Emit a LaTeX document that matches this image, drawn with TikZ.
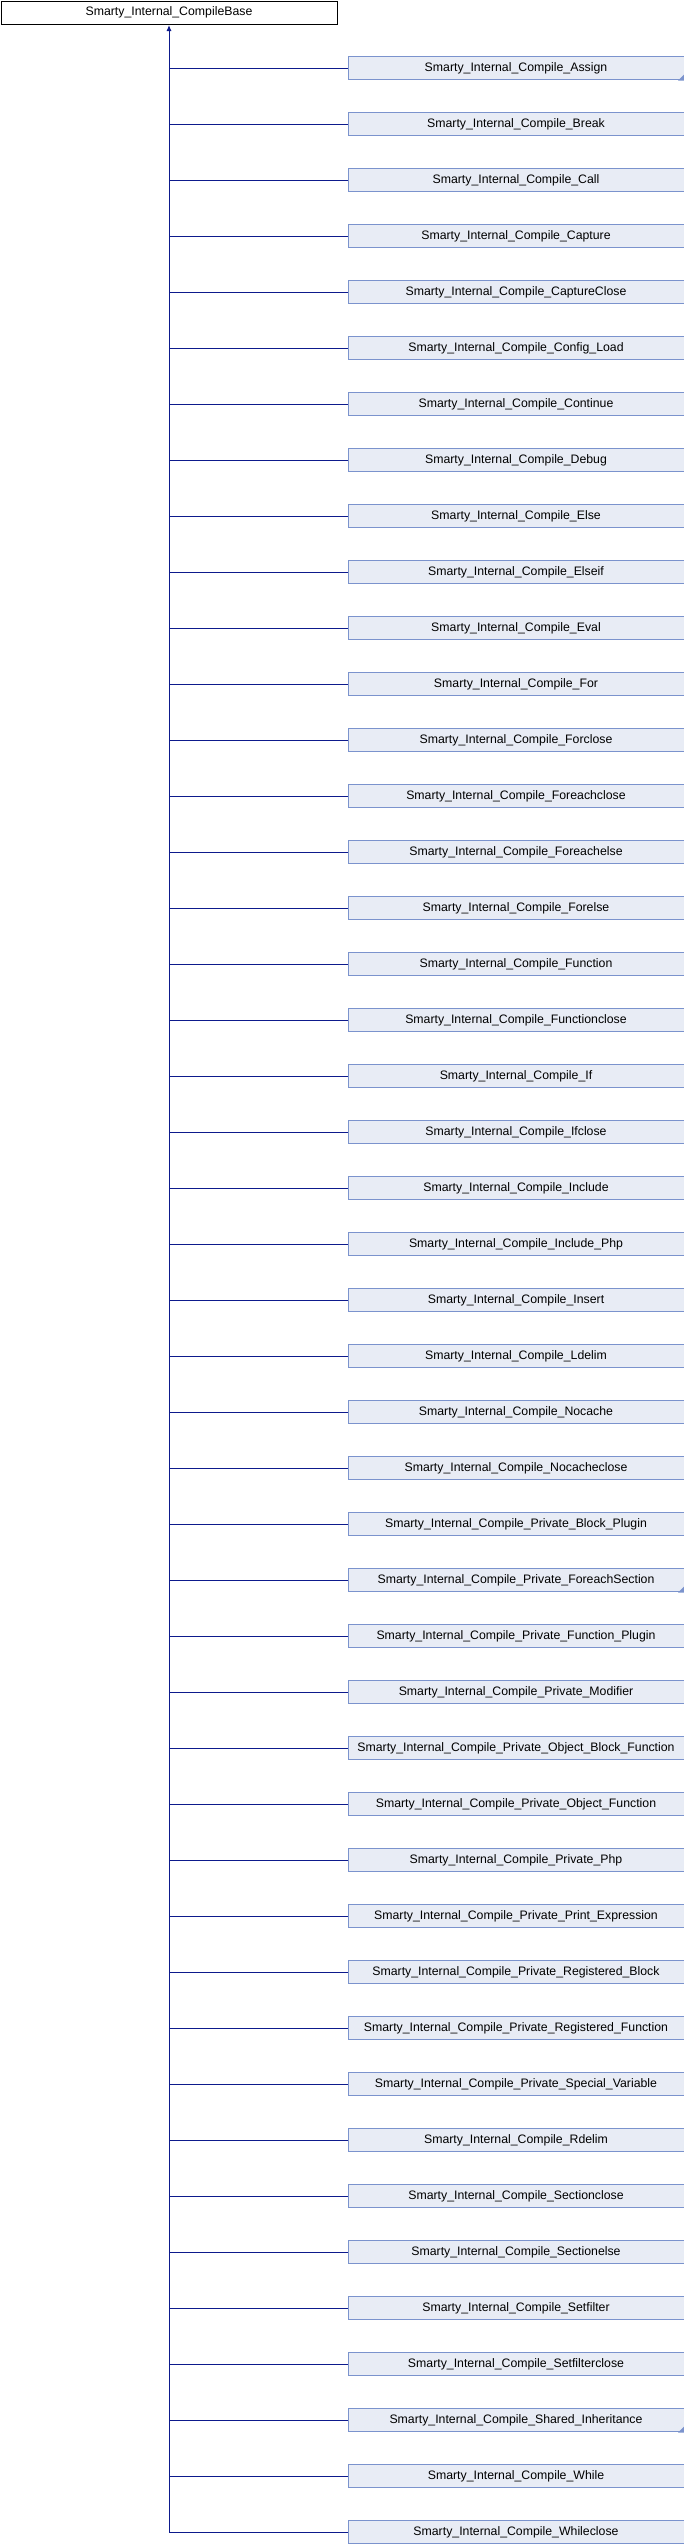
\documentclass[tikz,border=0pt]{standalone}
\usepackage{fontspec}
\setmainfont{Liberation Sans}
\usetikzlibrary{arrows.meta}
\definecolor{boxfill}{HTML}{E8ECF5}
\definecolor{boxedge}{HTML}{7B93CD}
\definecolor{linkcol}{HTML}{0D1A8C}
\begin{document}
\begin{tikzpicture}[x=1pt,y=-1pt,
  lbl/.style={font=\fontsize{12.3}{14}\selectfont, inner sep=0pt, minimum height=23pt},
  basebox/.style={lbl, draw=black, fill=white, line width=1pt, minimum width=336pt, anchor=north west},
  childbox/.style={lbl, draw=boxedge, fill=boxfill, line width=1pt, minimum width=336pt, anchor=west},
  link/.style={draw=linkcol, line width=1pt}]
\useasboundingbox (0,0) rectangle (684,2544);
\node[basebox] (base) at (0.5,0.5) {Smarty\_Internal\_CompileBase};
\foreach \n [count=\i from 0] in {Assign,Break,Call,Capture,CaptureClose,Config\_Load,Continue,Debug,Else,Elseif,Eval,For,Forclose,Foreachclose,Foreachelse,Forelse,Function,Functionclose,If,Ifclose,Include,Include\_Php,Insert,Ldelim,Nocache,Nocacheclose,Private\_Block\_Plugin,Private\_ForeachSection,Private\_Function\_Plugin,Private\_Modifier,Private\_Object\_Block\_Function,Private\_Object\_Function,Private\_Php,Private\_Print\_Expression,Private\_Registered\_Block,Private\_Registered\_Function,Private\_Special\_Variable,Rdelim,Sectionclose,Sectionelse,Setfilter,Setfilterclose,Shared\_Inheritance,While,Whileclose}{
  \node[childbox] (c\i) at (347.5,68+56*\i) {Smarty\_Internal\_Compile\_\n};
  \draw[link] (c\i.west) -- (c\i.west -| base.south);
}
\coordinate (trunkend) at (base.south |- c44.west);
\draw[link, {Latex[length=6pt,width=5pt]}-] ([yshift=-0.5pt]base.south) -- (trunkend);
\foreach \k in {0,27,42}{
  \fill[boxedge] ([xshift=0.5pt,yshift=-0.5pt]c\k.south east) -- ++(-7pt,0pt) -- ++(7pt,7pt) -- cycle;
}
\end{tikzpicture}
\end{document}
